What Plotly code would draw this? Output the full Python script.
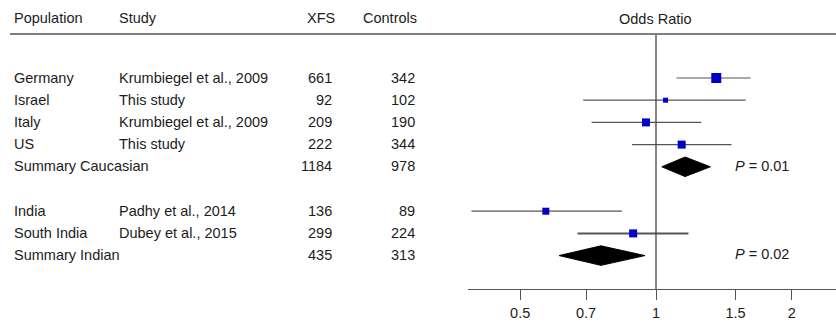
import plotly.graph_objects as go
import math

# ---- data ----
populations = ["Germany", "Israel", "Italy", "US", "Summary Caucasian",
               "India", "South India", "Summary Indian"]
studies = ["Krumbiegel et al., 2009", "This study", "Krumbiegel et al., 2009",
           "This study", "", "Padhy et al., 2014", "Dubey et al., 2015", ""]
xfs = [661, 92, 209, 222, 1184, 136, 299, 435]
controls = [342, 102, 190, 344, 978, 89, 224, 313]
rows = [0, 1, 2, 3, 4, 6, 7, 8]

study_rows = [0, 1, 2, 3, 6, 7]
study_or = [1.36, 1.05, 0.95, 1.14, 0.57, 0.89]
study_lo = [1.11, 0.69, 0.72, 0.885, 0.39, 0.67]
study_hi = [1.62, 1.58, 1.26, 1.47, 0.84, 1.18]

summary_rows = [4, 8]
summary_or = [1.16, 0.755]
summary_lo = [1.03, 0.61]
summary_hi = [1.32, 0.945]
summary_p = ["0.01", "0.02"]

tick_vals = [0.5, 0.7, 1, 1.5, 2]
tick_text = ["0.5", "0.7", "1", "1.5", "2"]

# ---- styles ----
W, H = 836, 326
marker_sizes = [10, 5, 8, 8, 7, 8]
line_widths = [1.2, 1.2, 1.2, 1.2, 1.2, 2.0]
FONT = "Liberation Sans, Arial, sans-serif"
TXT = "#1c1c1c"
FS = 14.5
diamond_half = 0.44

def px(x):
    return x / W

def py(y):
    return 1 - y / H

fig = go.Figure()

for r, lo, hi, lw in zip(study_rows, study_lo, study_hi, line_widths):
    fig.add_trace(go.Scatter(x=[lo, hi], y=[r, r], mode="lines",
                             line=dict(color="#555555", width=lw),
                             hoverinfo="skip", showlegend=False))

fig.add_trace(go.Scatter(x=study_or, y=study_rows, mode="markers",
                         marker=dict(symbol="square", size=marker_sizes,
                                     color="#0000C8", opacity=1,
                                     line=dict(width=0)),
                         showlegend=False))

for r, c, lo, hi in zip(summary_rows, summary_or, summary_lo, summary_hi):
    fig.add_trace(go.Scatter(x=[lo, c, hi, c, lo],
                             y=[r, r - diamond_half, r, r + diamond_half, r],
                             mode="lines", fill="toself", fillcolor="black",
                             line=dict(color="black", width=1),
                             hoverinfo="skip", showlegend=False))

# plot region in pixels
x_left_px, x_right_px = 468, 836
axis_px = 289
one_px = 656
per_ln = 196.0
lnL = (x_left_px - one_px) / per_ln
lnR = (x_right_px - one_px) / per_ln
row0_px, row_step = 78, 22.2
r_top = (0 - row0_px) / row_step
r_bot = (axis_px - row0_px) / row_step

fig.update_xaxes(type="log", domain=[x_left_px / W, 1],
                 range=[lnL / math.log(10), lnR / math.log(10)],
                 tickvals=tick_vals, ticktext=tick_text,
                 showline=True, linecolor="#555555", linewidth=1.3,
                 ticks="outside", ticklen=10, tickcolor="#555555", tickwidth=1.3,
                 tickfont=dict(family=FONT, size=FS, color=TXT),
                 showgrid=False, zeroline=False)
fig.update_yaxes(domain=[1 - axis_px / H, 1], range=[r_bot, r_top],
                 visible=False, showgrid=False, zeroline=False)

shapes = [
    dict(type="line", xref="paper", yref="paper", x0=px(10), x1=1,
         y0=py(34), y1=py(34), line=dict(color="#555555", width=1.3)),
    dict(type="line", xref="x", yref="paper", x0=1, x1=1,
         y0=py(35), y1=py(axis_px), line=dict(color="#444444", width=1.3)),
]

ann = []
def text(x, y, s, anchor="left", size=FS, yref="paper"):
    ann.append(dict(x=x, y=y, xref="paper", yref=yref, text=s, showarrow=False,
                    xanchor=anchor, yanchor="middle",
                    font=dict(family=FONT, size=size, color=TXT)))

# header
text(px(12), py(18), "Population")
text(px(117), py(18), "Study")
text(px(337), py(18), "XFS", anchor="right")
text(px(419), py(18), "Controls", anchor="right")
text(px(655), py(19), "Odds Ratio", anchor="center")

for r, pop, st, a, b in zip(rows, populations, studies, xfs, controls):
    yy = r - 0.02
    text(px(12), yy, pop, yref="y")
    if st:
        text(px(117), yy, st, yref="y")
    text(px(334), yy, str(a), anchor="right", yref="y")
    text(px(417), yy, str(b), anchor="right", yref="y")

for r, p in zip(summary_rows, summary_p):
    text(px(733), r - 0.05, "<i>P</i> = " + p, yref="y")

fig.update_layout(width=W, height=H, margin=dict(l=0, r=0, t=0, b=0),
                  paper_bgcolor="white", plot_bgcolor="white",
                  shapes=shapes, annotations=ann, showlegend=False)

fig.write_html("out.html", config={"displayModeBar": False},
               post_script="document.body.style.margin='0px';document.body.style.padding='0px';")
